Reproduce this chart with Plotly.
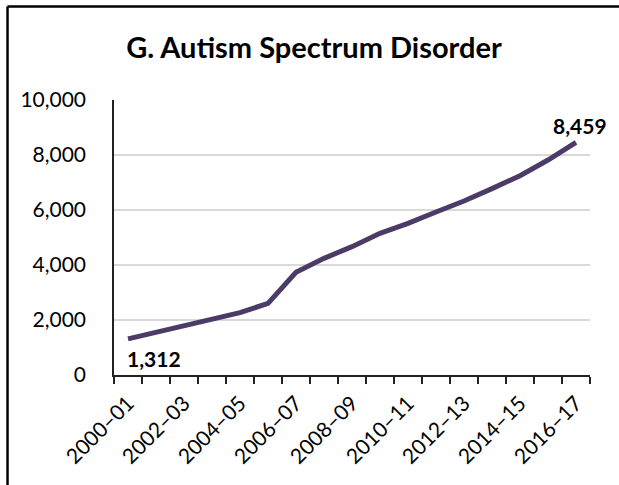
import plotly.graph_objects as go

years = ["2000–01", "2001–02", "2002–03", "2003–04", "2004–05", "2005–06", "2006–07",
         "2007–08", "2008–09", "2009–10", "2010–11", "2011–12", "2012–13", "2013–14",
         "2014–15", "2015–16", "2016–17"]
cases = [1312, 1552, 1806, 2024, 2267, 2606, 3733, 4242, 4667, 5152, 5515, 5927,
         6327, 6776, 7248, 7818, 8459]
tick_text = [y if i % 2 == 0 else "" for i, y in enumerate(years)]
title = "G. Autism Spectrum Disorder"

FONT = "Lato"
fig = go.Figure()
fig.add_trace(go.Scatter(x=years, y=cases, mode="lines",
                         line=dict(color="#4b3b66", width=5), hoverinfo="skip"))

fig.add_annotation(x=years[0], y=cases[0], text="<b>{:,}</b>".format(cases[0]),
                   showarrow=False, xanchor="left", yanchor="top", xshift=-3, yshift=-5,
                   font=dict(family=FONT, size=21, color="black"))
fig.add_annotation(x=years[-1], y=cases[-1], text="<b>{:,}</b>".format(cases[-1]),
                   showarrow=False, xanchor="center", yanchor="bottom", xshift=4, yshift=2,
                   font=dict(family=FONT, size=21, color="black"))

# outer frame (left and top edges)
fig.add_shape(type="line", xref="paper", yref="paper", x0=-0.2237, x1=1.1, y0=1.34, y1=1.34,
              line=dict(color="black", width=2.5))
fig.add_shape(type="line", xref="paper", yref="paper", x0=-0.2237, x1=-0.2237, y0=-0.5, y1=1.34,
              line=dict(color="black", width=2.5))

fig.update_layout(
    width=619, height=485,
    margin=dict(l=114, r=29, t=100, b=110),
    paper_bgcolor="white", plot_bgcolor="white",
    showlegend=False,
    title=dict(text="<b>" + title + "</b>", x=(314 - 114) / 476, xref="paper", xanchor="center",
               y=1 - 48 / 485, yanchor="middle",
               font=dict(family=FONT, size=29, color="black")),
    font=dict(family=FONT, size=21, color="black"),
)
fig.update_xaxes(type="category", tickvals=years, ticktext=tick_text, tickangle=-45,
                 ticks="outside", ticklen=7, tickwidth=1.5, tickcolor="#222",
                 tickson="boundaries", showline=True, linecolor="#222", linewidth=1.5,
                 showgrid=False, tickfont=dict(family=FONT, size=21), ticklabelstandoff=6,
                 range=[-0.5, len(years) - 0.5])
fig.update_yaxes(range=[0, 10000], tickvals=[0, 2000, 4000, 6000, 8000, 10000],
                 tickformat=",d", showline=True, linecolor="#222", linewidth=1.5,
                 showgrid=True, gridcolor="#d9d9d9", gridwidth=1.5, zeroline=False,
                 ticks="", ticklabelstandoff=22, tickfont=dict(family=FONT, size=21))

fig.write_html("out.html", config={"displayModeBar": False},
               post_script="document.body.style.margin='0';")
